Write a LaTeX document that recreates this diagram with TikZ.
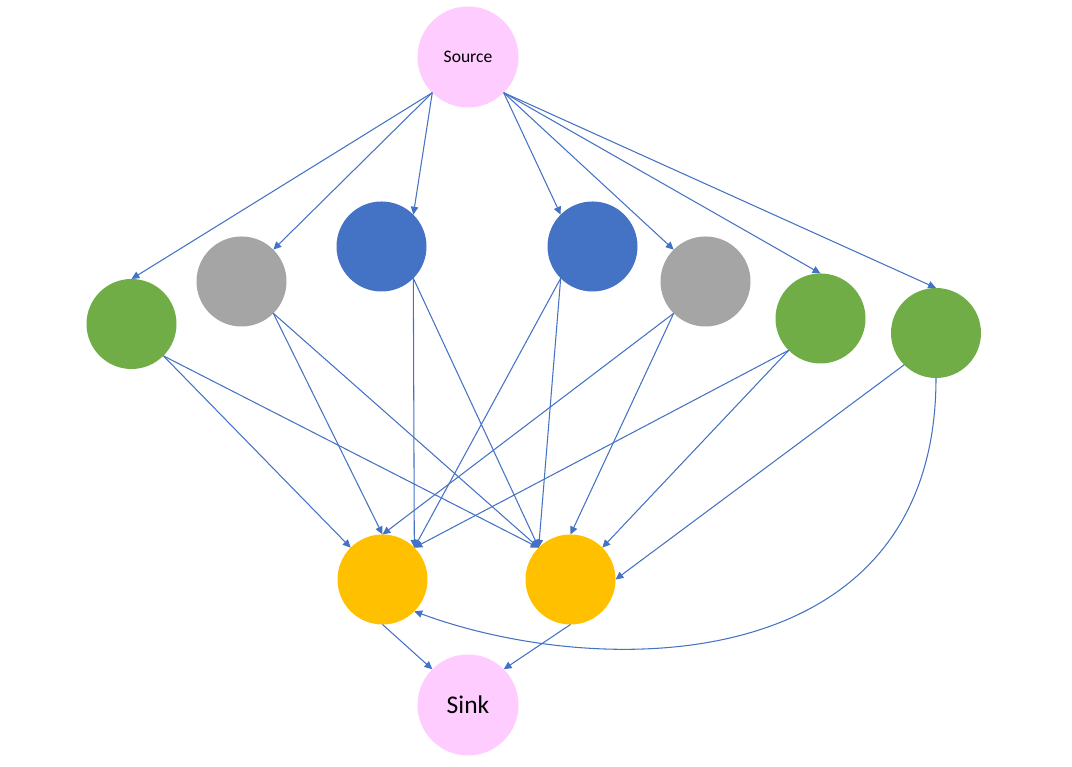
\documentclass[tikz,border=0pt]{standalone}
\usepackage{fontspec}
\setmainfont{Carlito}
\usepackage{xcolor}
\usetikzlibrary{arrows.meta}

\definecolor{ngreen}{HTML}{70AD47}
\definecolor{ngray}{HTML}{A5A5A5}
\definecolor{nblue}{HTML}{4472C4}
\definecolor{nyellow}{HTML}{FFC000}
\definecolor{npink}{HTML}{FFCCFF}
\definecolor{edgeblue}{HTML}{4472C4}

\tikzset{
    vertex/.style={circle, draw=none, outer sep=0pt, minimum size=1.8cm, inner sep=0pt},
    terminal/.style={vertex, fill=npink, minimum size=2.02cm},
    flow/.style={draw=edgeblue, line width=0.6pt, -{Triangle[length=4.5pt,width=4.2pt]}}
}

\begin{document}
\begin{tikzpicture}
        \useasboundingbox (0,0) rectangle (21.44,15.34);

        % Source and sink
        \node[terminal] (source) at (9.36,14.2) {\fontsize{10}{12}\selectfont Source};
        \node[terminal] (sink) at (9.36,1.24) {\fontsize{14.5}{17}\selectfont Sink};

        % Middle layer
        \node[vertex, fill=ngreen] (green1) at (2.63,8.86) {};
        \node[vertex, fill=ngray] (gray1) at (4.83,9.71) {};
        \node[vertex, fill=nblue] (blue1) at (7.63,10.41) {};
        \node[vertex, fill=nblue] (blue2) at (11.85,10.41) {};
        \node[vertex, fill=ngray] (gray2) at (14.11,9.71) {};
        \node[vertex, fill=ngreen] (green2) at (16.41,8.97) {};
        \node[vertex, fill=ngreen] (green3) at (18.72,8.68) {};

        % Lower layer
        \node[vertex, fill=nyellow] (yellow1) at (7.65,3.75) {};
        \node[vertex, fill=nyellow] (yellow2) at (11.41,3.75) {};

        % Source to middle layer
        \draw[flow] (source.south west) -- (green1.north);
        \draw[flow] (source.south west) -- (gray1.north east);
        \draw[flow] (source.south west) -- (blue1.north east);
        \draw[flow] (source.south east) -- (blue2.north west);
        \draw[flow] (source.south east) -- (gray2.north west);
        \draw[flow] (source.south east) -- (green2.north);
        \draw[flow] (source.south east) -- (green3.north);

        % Middle layer to lower layer
        \draw[flow] (green1.south east) -- (yellow1.north west);
        \draw[flow] (green1.south east) -- (yellow2.north west);
        \draw[flow] (gray1.south east) -- (yellow1.north);
        \draw[flow] (gray1.south east) -- (yellow2.north west);
        \draw[flow] (blue1.south east) -- (yellow1.north east);
        \draw[flow] (blue1.south east) -- (yellow2.north west);
        \draw[flow] (blue2.south west) -- (yellow1.north east);
        \draw[flow] (blue2.south west) -- (yellow2.north west);
        \draw[flow] (gray2.south west) -- (yellow1.north);
        \draw[flow] (gray2.south west) -- (yellow2.north);
        \draw[flow] (green2.south west) -- (yellow1.north east);
        \draw[flow] (green2.south west) -- (yellow2.north east);
        \draw[flow] (green3.south west) -- (yellow2.east);
        \draw[flow] (green3.south) .. controls (18.72,1.74) and (12.0,1.74) .. (yellow1.south east);

        % Lower layer to sink
        \draw[flow] (yellow1.south) -- (sink.north west);
        \draw[flow] (yellow2.south) -- (sink.north east);
    \end{tikzpicture}
\end{document}
